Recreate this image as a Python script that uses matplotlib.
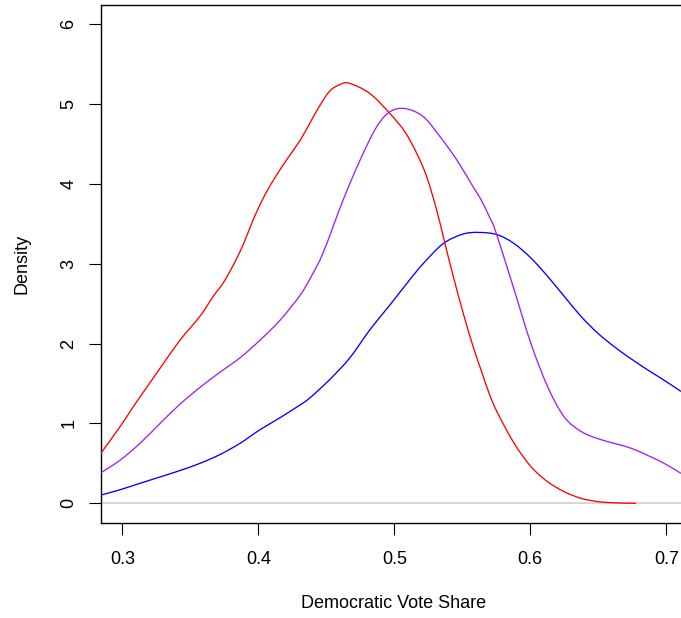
import matplotlib
matplotlib.use("Agg")
import matplotlib.pyplot as plt
from matplotlib.path import Path
from matplotlib.patches import PathPatch

# ---- data ----
red_x = [0.2836, 0.2984, 0.3058, 0.313, 0.3278, 0.3424, 0.3571, 0.3669, 0.3743,
         0.3816, 0.389, 0.3963, 0.4037, 0.411, 0.4209, 0.4307, 0.438, 0.445,
         0.4526, 0.46, 0.4669, 0.482, 0.4967, 0.5078, 0.5165, 0.5238, 0.5312, 0.5373, 0.5434,
         0.5507, 0.558, 0.5638, 0.5699, 0.576, 0.5882, 0.6005, 0.6128, 0.625, 0.6373,
         0.6496, 0.6618, 0.6777]
red_y = [0.61, 0.96, 1.15, 1.33, 1.69, 2.04, 2.34, 2.59, 2.76,
         2.98, 3.24, 3.55, 3.82, 4.04, 4.30, 4.54, 4.76, 4.97,
         5.16, 5.24, 5.257, 5.13, 4.88, 4.65, 4.38, 4.09, 3.67, 3.25, 2.84,
         2.38, 1.96, 1.67, 1.37, 1.13, 0.75, 0.46, 0.27, 0.145, 0.063,
         0.022, 0.006, 0.0]

purple_x = [0.2836, 0.2984, 0.313, 0.3278, 0.3424, 0.3571, 0.3718, 0.3865, 0.4012, 0.4159,
            0.4306, 0.439, 0.4478, 0.4625, 0.475, 0.487, 0.4968, 0.5079, 0.5213, 0.5336, 0.5459,
            0.558, 0.5638, 0.5704, 0.5748, 0.5882, 0.6005, 0.6128, 0.625, 0.6373, 0.6496,
            0.6618, 0.674, 0.6863, 0.6985, 0.7108]
purple_y = [0.375, 0.54, 0.75, 1.0, 1.24, 1.45, 1.64, 1.82, 2.04, 2.29,
            2.60, 2.84, 3.14, 3.80, 4.30, 4.71, 4.90, 4.94, 4.84, 4.59, 4.30,
            3.96, 3.80, 3.57, 3.39, 2.67, 2.0, 1.46, 1.08, 0.90, 0.81,
            0.75, 0.69, 0.60, 0.50, 0.375]

blue_x = [0.2836, 0.2984, 0.313, 0.3278, 0.3424, 0.3571, 0.3718, 0.3865, 0.4012, 0.4159,
          0.4306, 0.438, 0.4526, 0.4673, 0.482, 0.4967, 0.5115, 0.5213, 0.536,
          0.5507, 0.563, 0.576, 0.5882, 0.6005, 0.6128, 0.625, 0.6373, 0.6496, 0.6618,
          0.674, 0.6863, 0.6985, 0.7108]
blue_y = [0.10, 0.17, 0.25, 0.33, 0.41, 0.50, 0.61, 0.75, 0.92, 1.07,
          1.23, 1.32, 1.55, 1.82, 2.17, 2.48, 2.80, 3.00, 3.25,
          3.37, 3.39, 3.36, 3.25, 3.07, 2.84, 2.59, 2.34, 2.13, 1.96,
          1.81, 1.67, 1.54, 1.40]

x_ticks = [0.3, 0.4, 0.5, 0.6, 0.7]
x_ticklabels = ["0.3", "0.4", "0.5", "0.6", "0.7"]
y_ticks = [0, 1, 2, 3, 4, 5, 6]
y_ticklabels = ["0", "1", "2", "3", "4", "5", "6"]
x_label = "Democratic Vote Share"
y_label = "Density"


def smooth_path(xs, ys):
    """Smooth (Catmull-Rom as cubic Bezier) path through the read points."""
    pts = list(zip(xs, ys))
    n = len(pts)
    verts = [pts[0]]
    codes = [Path.MOVETO]
    for i in range(n - 1):
        p0 = pts[i - 1] if i > 0 else pts[i]
        p1 = pts[i]
        p2 = pts[i + 1]
        p3 = pts[i + 2] if i + 2 < n else pts[i + 1]
        c1 = (p1[0] + (p2[0] - p0[0]) / 6.0, p1[1] + (p2[1] - p0[1]) / 6.0)
        c2 = (p2[0] - (p3[0] - p1[0]) / 6.0, p2[1] - (p3[1] - p1[1]) / 6.0)
        verts += [c1, c2, p2]
        codes += [Path.CURVE4] * 3
    return Path(verts, codes)


# ---- figure ----
plt.rcParams['font.family'] = ['Liberation Sans', 'DejaVu Sans']
W, H = 681, 618
fig = plt.figure(figsize=(W / 100, H / 100), dpi=100)
left_px, right_px, top_px, bottom_px = 100.5, 688.0, 4.7, 522.5
ax = fig.add_axes([left_px / W, 1 - bottom_px / H,
                   (right_px - left_px) / W, (bottom_px - top_px) / H])
ax.set_xlim(0.284, 0.716)
ax.set_ylim(-0.24, 6.24)

lw = 0.95
ax.axhline(0, color='#D3D3D3', lw=1.3, zorder=2)
for xs, ys, col, z in [(blue_x, blue_y, '#0000FF', 3),
                       (red_x, red_y, '#FF0000', 4),
                       (purple_x, purple_y, '#A020F0', 5)]:
    patch = PathPatch(smooth_path(xs, ys), facecolor='none', edgecolor=col,
                      lw=lw, zorder=z, transform=ax.transData)
    ax.add_patch(patch)

for s in ax.spines.values():
    s.set_linewidth(1.0)
    s.set_color('black')

ax.set_xticks(x_ticks)
ax.set_xticklabels(x_ticklabels)
ax.set_yticks(y_ticks)
ax.set_yticklabels(y_ticklabels)
ax.tick_params(axis='both', direction='out', length=8.5, width=0.8,
               labelsize=13, colors='black')
ax.tick_params(axis='x', pad=12)
ax.tick_params(axis='y', pad=8)
for lab in ax.get_yticklabels():
    lab.set_rotation(90)
    lab.set_va('center')
    lab.set_ha('right')

fig.text(394 / W, 1 - 603 / H, x_label, ha='center', va='center', fontsize=13)
fig.text(21.5 / W, 1 - 263.5 / H, y_label, ha='center', va='center',
         fontsize=13, rotation=90)

fig.savefig("out.png", dpi=100)
